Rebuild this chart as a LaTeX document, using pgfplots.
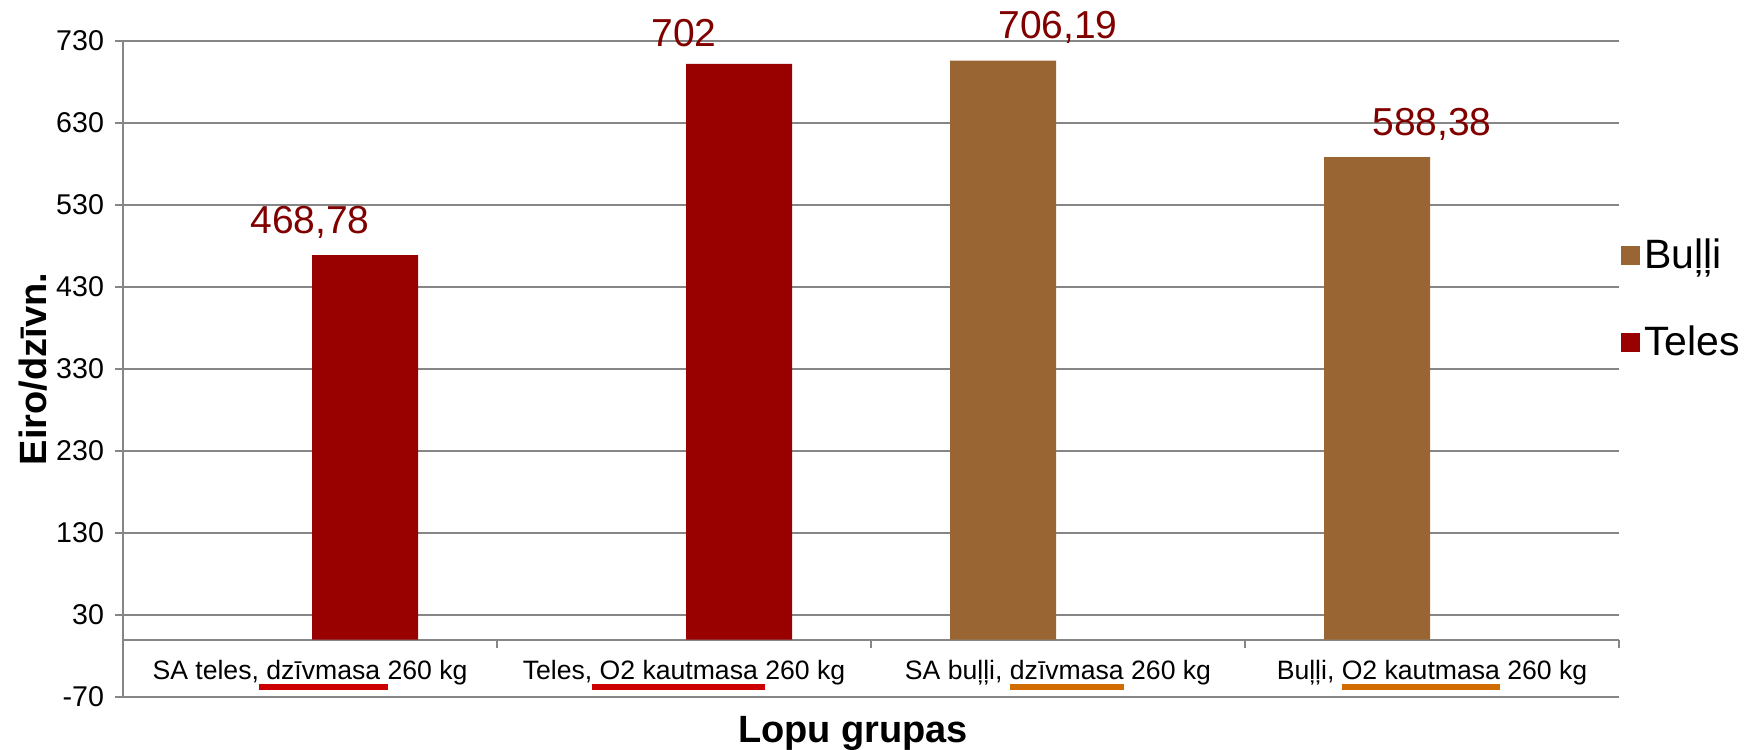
\documentclass[border=0pt]{standalone}
\usepackage{pgfplots}
\pgfplotsset{compat=1.18}
\usepackage{fontspec}
\setmainfont{Liberation Sans}
\definecolor{teles}{RGB}{153,0,0}
\definecolor{bulli}{RGB}{153,102,51}
\definecolor{lbl}{RGB}{128,0,0}
\definecolor{ulred}{RGB}{204,0,0}
\definecolor{ulorange}{RGB}{209,108,0}
\definecolor{gridgray}{RGB}{134,134,134}
\newcommand{\cul}[2]{\ooalign{\hfil#2\hfil\cr\textcolor{#1}{\leaders\vrule height -2pt depth 5pt\hfill}\cr}}
\begin{document}
\begin{tikzpicture}
\useasboundingbox (-61.5pt,-26pt) rectangle (810.5pt,348.5pt);
\begin{axis}[
  at={(0,0)}, anchor=south west,
  width=748pt, height=328pt, scale only axis,
  xmin=-0.5, xmax=3.5, ymin=-70, ymax=730,
  axis x line=middle, axis y line=left,
  hide obscured x ticks=false,
  axis line style={gridgray, line width=1pt, -},
  ytick={-70,30,...,730},
  ymajorgrids, grid style={gridgray, line width=1pt},
  tick style={gridgray, line width=1pt},
  tick align=outside,
  major tick length=4pt,
  xtick={-0.5,0.5,1.5,2.5,3.5},
  x tick label as interval,
  xticklabels={{SA teles,\cul{ulred}{ dzīvmasa }260 kg},{Teles,\cul{ulred}{ O2 kautmasa }260 kg},{SA buļļi, \cul{ulorange}{dzīvmasa} 260 kg},{Buļļi, \cul{ulorange}{O2 kautmasa} 260 kg},{}},
  /pgf/number format/assume math mode=true,
  ticklabel style={font=\fontsize{14.3}{17}\selectfont, text=black},
  xticklabel style={font=\fontsize{13.3}{16}\selectfont, yshift=-3pt},
  yticklabel style={xshift=-2pt},
  xlabel={Lopu grupas},
  xlabel style={at={(axis description cs:0.488,0)}, anchor=center, yshift=-18pt, font=\fontsize{19}{22}\selectfont\bfseries},
  ylabel={Eiro/dzīvn.},
  ylabel style={at={(axis description cs:-0.0602,0.5)}, anchor=center, font=\fontsize{19}{22}\selectfont\bfseries},
  legend style={at={(1,0.607)}, anchor=west, draw=none, fill=none, xshift=1pt,
    font=\fontsize{20.5}{24}\selectfont, row sep=23pt, inner sep=0pt},
  legend cell align=left,
  legend image code/.code={\fill[#1] (0pt,-4.75pt) rectangle (9.5pt,4.75pt);},
  nodes near coords style={font=\fontsize{19.5}{23}\selectfont, text=lbl, anchor=south, yshift=5pt},
]
\addplot[ybar, fill=bulli, draw=none, bar width=53pt, bar shift=-27.5pt,
  nodes near coords, point meta=explicit symbolic]
  coordinates {(2,706.19) [706,19] (3,588.38) [588,38]};
\addlegendentry{Buļļi}
\addplot[ybar, fill=teles, draw=none, bar width=53pt, bar shift=27.5pt,
  nodes near coords, point meta=explicit symbolic]
  coordinates {(0,468.78) [468,78] (1,702) [702]};
\addlegendentry{Teles}
\end{axis}
\end{tikzpicture}
\end{document}
